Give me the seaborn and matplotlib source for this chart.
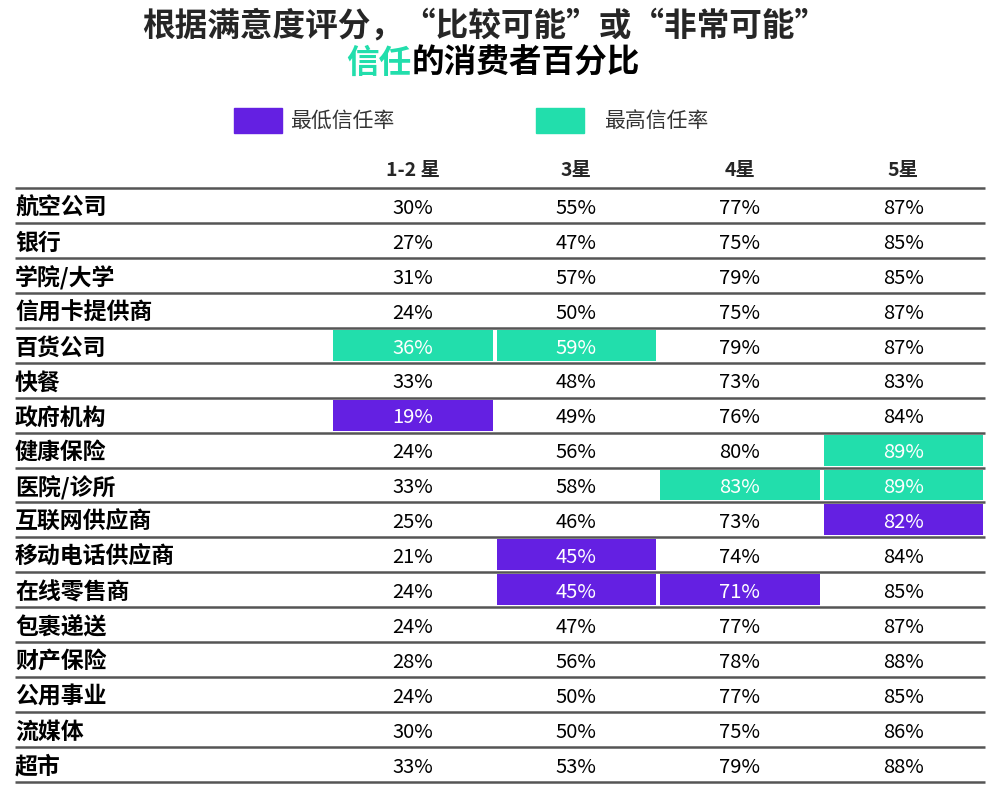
#!/usr/bin/env python3
"""Trust table: share of consumers 'somewhat' or 'very likely' to trust, by satisfaction rating."""
import numpy as np
import pandas as pd
import matplotlib
matplotlib.use('Agg')
import matplotlib.pyplot as plt
from matplotlib.colors import ListedColormap
from matplotlib.patches import Rectangle
import seaborn as sns

sns.set_style('white')
plt.rcParams['font.family'] = ['Noto Sans CJK SC', 'DejaVu Sans']

PURPLE = '#6420E2'
TEAL = '#22DEAC'
LINE = '#555555'

categories = ['航空公司', '银行', '学院/大学', '信用卡提供商', '百货公司', '快餐', '政府机构',
              '健康保险', '医院/诊所', '互联网供应商', '移动电话供应商', '在线零售商', '包裹递送',
              '财产保险', '公用事业', '流媒体', '超市']
columns = ['1-2 星', '3星', '4星', '5星']
star_1_2 = [30, 27, 31, 24, 36, 33, 19, 24, 33, 25, 21, 24, 24, 28, 24, 30, 33]
star_3 = [55, 47, 57, 50, 59, 48, 49, 56, 58, 46, 45, 45, 47, 56, 50, 50, 53]
star_4 = [77, 75, 79, 75, 79, 73, 76, 80, 83, 73, 74, 71, 77, 78, 77, 75, 79]
star_5 = [87, 85, 85, 87, 87, 83, 84, 89, 89, 82, 84, 85, 87, 88, 85, 86, 88]
legend_labels = ['最低信任率', '最高信任率']

df = pd.DataFrame(dict(zip(columns, [star_1_2, star_3, star_4, star_5])), index=categories)

# 0 = plain, 1 = lowest in column, 2 = highest in column
codes = np.zeros(df.shape, dtype=int)
codes[df.values == df.min().values] = 1
codes[df.values == df.max().values] = 2
labels = df.map(lambda v: f'{v}%')

fig = plt.figure(figsize=(10, 8.1), dpi=100)
ax = fig.add_axes([0.331, 28 / 810, 0.654, 594 / 810])

sns.heatmap(codes, ax=ax, cmap=ListedColormap(['white', PURPLE, TEAL]), vmin=0, vmax=2,
            cbar=False, linewidths=1.5, linecolor='white',
            annot=labels.values, fmt='', annot_kws={'fontsize': 14.5})

# nudge the annotations a touch down (CJK font sits high) and fix colours
for t, c in zip(ax.texts, codes.ravel()):
    t.set_color('white' if c else 'black')
    x, y = t.get_position()
    t.set_position((x, y + 0.08))

# header on top
ax.xaxis.tick_top()
ax.set_xticks(np.arange(len(columns)) + 0.5)
ax.set_xticklabels(columns, fontsize=14, fontweight='bold')
ax.tick_params(axis='x', length=0, pad=6)
ax.set_yticks([])

# row separators across full table width
x_left = (15 - 331) / 163.5
ax.hlines(np.arange(len(categories) + 1), x_left, len(columns), colors=LINE,
          linewidth=1.8, clip_on=False)

for i, name in enumerate(categories):
    ax.text(x_left, i + 0.58, name, ha='left', va='center', fontsize=16.5,
            fontweight='bold', color='black')

# title
TITLE_FS = 23.5
fig.text(0.485, 1 - 26 / 810, '根据满意度评分，“比较可能”或“非常可能”', ha='center', va='center',
         fontsize=TITLE_FS, fontweight='black')
fig.canvas.draw()
r = fig.canvas.get_renderer()
full = fig.text(0.493, 1 - 63 / 810, '信任的消费者百分比', ha='center', va='center',
                fontsize=TITLE_FS, fontweight='black', alpha=0)
bb = full.get_window_extent(r)
part = fig.text(0, 0, '信任', fontsize=TITLE_FS, fontweight='black', alpha=0)
pw = part.get_window_extent(r).width
x0 = bb.x0 / fig.bbox.width
xs = (bb.x0 + pw) / fig.bbox.width
fig.text(x0, 1 - 63 / 810, '信任', ha='left', va='center', fontsize=TITLE_FS,
         fontweight='black', color=TEAL)
fig.text(xs, 1 - 63 / 810, '的消费者百分比', ha='left', va='center', fontsize=TITLE_FS,
         fontweight='black', color='black')

# legend
for (sx, tx), col, lab in zip([(234, 290), (536, 604)], [PURPLE, TEAL], legend_labels):
    fig.add_artist(Rectangle((sx / 1000, 1 - 133 / 810), 48 / 1000, 25 / 810,
                             transform=fig.transFigure, color=col))
    fig.text(tx / 1000, 1 - 121 / 810, lab, ha='left', va='center', fontsize=15, color='#333333')

fig.savefig('out.png', dpi=100)
